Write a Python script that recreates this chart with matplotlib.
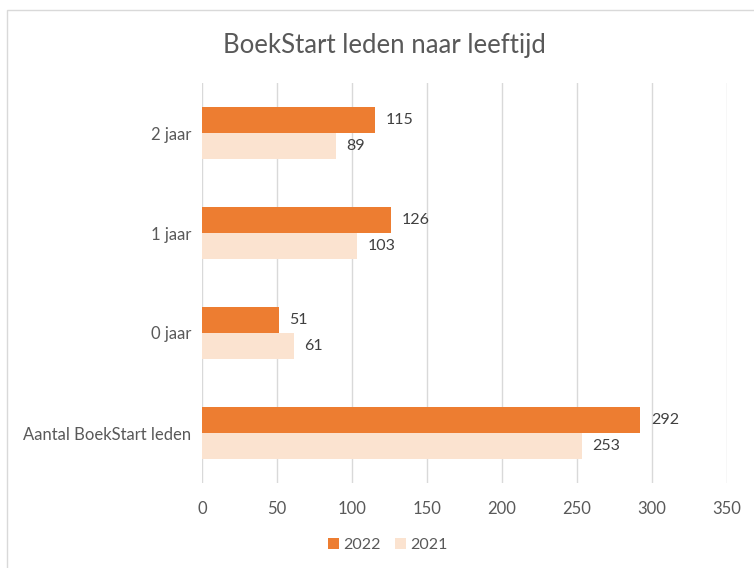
import matplotlib
matplotlib.use('Agg')
import matplotlib.pyplot as plt
from matplotlib.patches import Rectangle
import numpy as np

# data (top to bottom in the picture)
categories = ['2 jaar', '1 jaar', '0 jaar', 'Aantal BoekStart leden']
values_2022 = [115, 126, 51, 292]
values_2021 = [89, 103, 61, 253]
xticks = [0, 50, 100, 150, 200, 250, 300, 350]

c22 = '#ED7D31'
c21 = '#FBE3D0'
txt = '#595959'
plt.rcParams['font.family'] = ['Lato', 'DejaVu Sans']

fig = plt.figure(figsize=(7.54, 5.68), dpi=100)
ax = fig.add_axes([202/754, 1-483/568, 525/754, 400/568])

y = np.arange(len(categories))
h = 0.26
b1 = ax.barh(y - h/2, values_2022, height=h, color=c22, label='2022', zorder=3)
b2 = ax.barh(y + h/2, values_2021, height=h, color=c21, label='2021', zorder=3)
for bars, vals in ((b1, values_2022), (b2, values_2021)):
    for bar, v in zip(bars, vals):
        ax.annotate(str(v), (bar.get_width(), bar.get_y() + bar.get_height()/2),
                    xytext=(8, 0), textcoords='offset points', va='center', ha='left',
                    fontsize=11.5, color='#404040')

ax.set_ylim(len(categories) - 0.5, -0.5)
ax.set_xlim(0, 350)
ax.set_xticks(xticks)
ax.set_yticks(y)
ax.set_yticklabels(categories)
ax.tick_params(axis='both', length=0, labelsize=12, colors=txt, pad=8)
ax.tick_params(axis='x', pad=13)
ax.grid(axis='x', color='#D9D9D9', linewidth=1, zorder=0)
for s in ax.spines.values():
    s.set_visible(False)

fig.text(384/754, 1-45/568, 'BoekStart leden naar leeftijd', ha='center', va='center',
         fontsize=18.5, color=txt)
fig.legend(handles=[b1, b2], loc='center', bbox_to_anchor=(388/754, 1-545/568), ncol=2,
           frameon=False, fontsize=11.5, labelcolor=txt, handlelength=0.7, handleheight=0.7,
           handletextpad=0.25, columnspacing=0.9)

fig.patches.append(Rectangle((7/754, -0.05), 1.1, 1 - 10/568 + 0.05, transform=fig.transFigure,
                             fill=False, edgecolor='#D9D9D9', linewidth=1))

plt.savefig('out.png', dpi=100)
